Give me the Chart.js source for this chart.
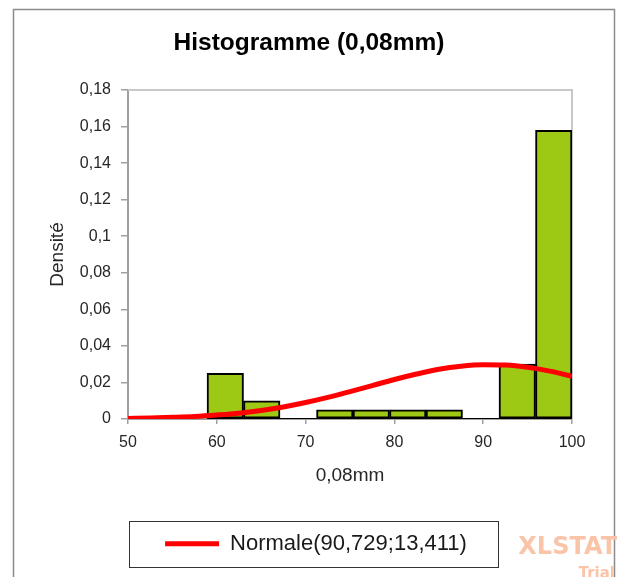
<!DOCTYPE html>
<html>
<head>
<meta charset="utf-8">
<script src="https://cdn.jsdelivr.net/npm/chart.js@4/dist/chart.umd.min.js"></script>
<style>
  html, body { margin: 0; padding: 0; background: #fff; overflow: hidden; }
</style>
</head>
<body>
<canvas id="histChart" width="621" height="577"></canvas>
<script>
// bornes des classes et densités
var binEdges = [58.9, 63.01, 67.12, 71.23, 75.34, 79.45, 83.56, 87.67, 91.78, 95.89, 100];
var binDensity = [0.025, 0.01, 0, 0.005, 0.005, 0.005, 0.005, 0, 0.03, 0.158];

// courbe normale (valeurs estimées sur l'image)
var curveX = [50, 52.5, 55, 57.5, 60, 62.5, 65, 67.5, 70, 72.5, 75, 77.5, 80, 82.5, 85, 87.5, 90, 92.5, 95, 97.5, 100];
var curveY = [0.0003, 0.0005, 0.0009, 0.0014, 0.0022, 0.0032, 0.0047, 0.0066, 0.009, 0.0118, 0.015, 0.0183, 0.0216, 0.0246, 0.0272, 0.0289, 0.0297, 0.0295, 0.0283, 0.0262, 0.0234];

var xTickLabels = ['50', '60', '70', '80', '90', '100'];
var yTickLabels = ['0', '0,02', '0,04', '0,06', '0,08', '0,1', '0,12', '0,14', '0,16', '0,18'];

var curveLabel = 'Normale(90,729;13,411)';

var barData = binDensity.map(function(v, i) {
    return { x: (binEdges[i] + binEdges[i + 1]) / 2, y: v };
});
var baseData = binEdges.map(function(e) { return { x: e, y: 0 }; });
var curveData = curveX.map(function(x, i) { return { x: x, y: curveY[i] }; });

Chart.defaults.font.family = '"Liberation Sans", Arial, sans-serif';
Chart.defaults.color = '#262626';

var extras = {
    id: 'extras',
    afterLayout: function(chart) {
        // décale un peu la légende vers la droite
        chart.legend.left += 7;
        chart.legend.right += 7;
    },
    beforeDraw: function(chart) {
        var ctx = chart.ctx;
        ctx.save();
        ctx.fillStyle = '#fff';
        ctx.fillRect(0, 0, chart.width, chart.height);
        ctx.strokeStyle = '#8c8c8c';
        ctx.lineWidth = 1.5;
        ctx.strokeRect(13.5, 9.5, 601, 600);
        ctx.restore();
    },
    beforeDatasetsDraw: function(chart) {
        var a = chart.chartArea, ctx = chart.ctx;
        ctx.save();
        ctx.strokeStyle = '#c8c8c8';
        ctx.lineWidth = 2;
        ctx.beginPath();
        ctx.moveTo(a.left, a.top);
        ctx.lineTo(a.right, a.top);
        ctx.lineTo(a.right, a.bottom);
        ctx.stroke();
        ctx.restore();
    },
    afterDraw: function(chart) {
        var ctx = chart.ctx;
        var hb = chart.legend.legendHitBoxes[0];
        ctx.save();
        if (hb) {
            var cy = hb.top + hb.height / 2;
            ctx.strokeStyle = '#333';
            ctx.lineWidth = 1;
            ctx.strokeRect(Math.round(hb.left - 36) + 0.5, Math.round(cy - 23) + 0.5, Math.round(hb.width + 67), 46);
        }
        // filigrane
        ctx.fillStyle = '#fac4a8';
        ctx.textAlign = 'right';
        ctx.textBaseline = 'alphabetic';
        ctx.font = 'bold 24px "DejaVu Sans"';
        ctx.fillText('XLSTAT', 617, 554);
        ctx.font = 'bold 15px "DejaVu Sans"';
        ctx.fillText('Trial', 615, 578);
        ctx.restore();
    }
};

new Chart(document.getElementById('histChart'), {
    type: 'bar',
    data: {
        datasets: [{
            type: 'line',
            label: curveLabel,
            data: curveData,
            borderColor: '#ff0000',
            backgroundColor: '#ff0000',
            borderWidth: 5,
            pointRadius: 0,
            cubicInterpolationMode: 'monotone',
            order: 0
        }, {
            type: 'line',
            label: 'base',
            data: baseData,
            borderColor: '#000',
            borderWidth: 2,
            pointRadius: 0,
            order: 1
        }, {
            type: 'bar',
            label: 'hist',
            data: barData,
            backgroundColor: '#9dc813',
            borderColor: '#000',
            borderWidth: 2,
            borderSkipped: false,
            barPercentage: 1,
            categoryPercentage: 1,
            order: 2
        }]
    },
    options: {
        responsive: false,
        animation: false,
        layout: { padding: { left: 46, right: 49, top: 0, bottom: 12.3 } },
        scales: {
            x: {
                type: 'linear',
                min: 50,
                max: 100,
                offset: false,
                ticks: {
                    stepSize: 10,
                    padding: 9,
                    font: { size: 16 },
                    callback: function(v, i) { return xTickLabels[i]; }
                },
                grid: { offset: false, drawOnChartArea: false, drawTicks: true, tickLength: 5, color: '#a0a0a0', lineWidth: 1.5 },
                border: { color: '#a0a0a0', width: 2 },
                title: { display: true, text: '0,08mm', font: { size: 19 }, padding: { top: 0, bottom: 35.3 } },
                afterFit: function(scale) { scale.height = 103.7; }
            },
            y: {
                min: 0,
                max: 0.18,
                ticks: {
                    stepSize: 0.02,
                    padding: 10,
                    font: { size: 16 },
                    callback: function(v, i) { return yTickLabels[i]; }
                },
                grid: { drawOnChartArea: false, drawTicks: true, tickLength: 7, color: '#a0a0a0', lineWidth: 1.5 },
                border: { color: '#a0a0a0', width: 2 },
                title: { display: true, text: 'Densité', font: { size: 19 }, padding: { top: 0.6, bottom: 0 } },
                afterFit: function(scale) { scale.width = 82; }
            }
        },
        plugins: {
            title: {
                display: true,
                text: 'Histogramme (0,08mm)',
                color: '#000',
                font: { size: 24.5, weight: 'bold' },
                padding: { top: 28.3, bottom: 32.3 }
            },
            legend: {
                position: 'bottom',
                labels: {
                    padding: 10,
                    boxWidth: 54,
                    boxHeight: 5,
                    color: '#1a1a1a',
                    font: { size: 22 },
                    generateLabels: function(chart) {
                        var items = Chart.defaults.plugins.legend.labels.generateLabels(chart);
                        return items.filter(function(it) { return it.datasetIndex === 0; }).map(function(it) {
                            it.lineWidth = 0;
                            it.fillStyle = '#ff0000';
                            return it;
                        });
                    }
                }
            },
            tooltip: { enabled: false }
        }
    },
    plugins: [extras]
});
</script>
</body>
</html>
